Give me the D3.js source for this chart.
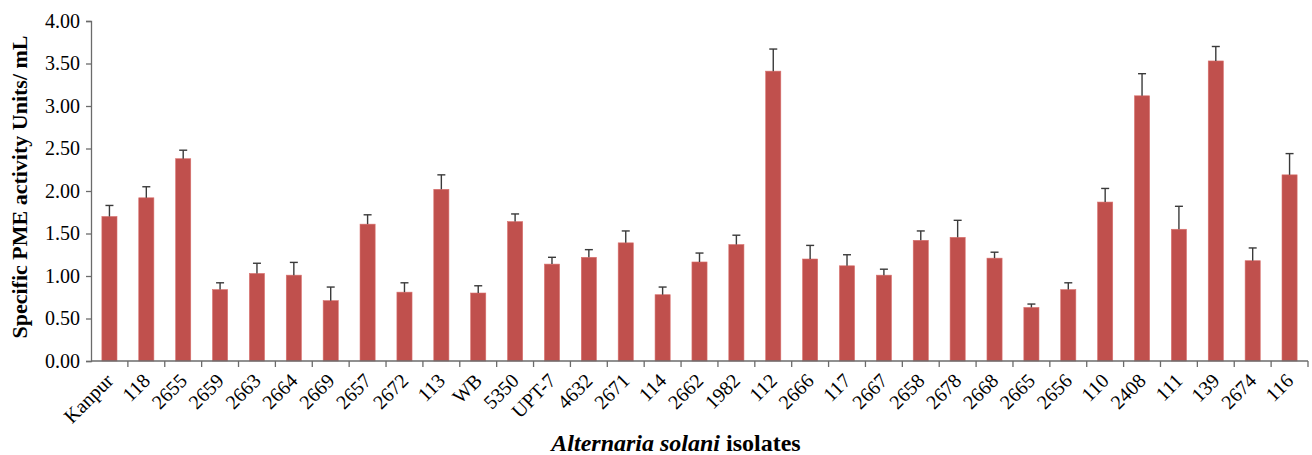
<!DOCTYPE html>
<html><head><meta charset="utf-8">
<script src="https://cdn.jsdelivr.net/npm/d3@7"></script>
<style>body{margin:0;background:#fff}svg{display:block}</style>
</head><body>
<svg id="c" width="1312" height="455"></svg>
<script>
const categories = ["Kanpur","118","2655","2659","2663","2664","2669","2657","2672","113","WB","5350","UPT-7","4632","2671","114","2662","1982","112","2666","117","2667","2658","2678","2668","2665","2656","110","2408","111","139","2674","116"];
const values = [1.70,1.92,2.38,0.84,1.03,1.01,0.71,1.61,0.81,2.02,0.80,1.64,1.14,1.22,1.39,0.78,1.165,1.37,3.41,1.20,1.12,1.01,1.42,1.455,1.21,0.63,0.84,1.87,3.12,1.55,3.53,1.18,2.19];
const errors = [0.13,0.13,0.10,0.08,0.12,0.15,0.16,0.11,0.11,0.17,0.085,0.09,0.08,0.09,0.14,0.09,0.105,0.11,0.26,0.16,0.13,0.07,0.11,0.20,0.07,0.04,0.08,0.16,0.26,0.27,0.17,0.15,0.25];
const yTicks = [0,0.5,1,1.5,2,2.5,3,3.5,4];

const svg = d3.select("#c");
const mLeft = 91, mRight = 1308, mTop = 21, mBottom = 361;
const x = d3.scaleBand().domain(categories).range([mLeft, mRight]).paddingInner(0.59).paddingOuter(0.295);
const y = d3.scaleLinear().domain([0,4]).range([mBottom, mTop]);
const serif = "'Liberation Serif','Times New Roman',serif";
const axisCol = "#6b6b6b";

// bars
svg.append("g").selectAll("rect").data(values).join("rect")
  .attr("x",(d,i)=>x(categories[i])).attr("width",x.bandwidth())
  .attr("y",d=>y(d)).attr("height",d=>y(0)-y(d))
  .attr("fill","#C0504D").attr("stroke","#d9716e").attr("stroke-width",0.6);

// error bars
const eg = svg.append("g").attr("stroke","#3a3a3a").attr("stroke-width",1.4);
values.forEach((v,i)=>{
  const cx = x(categories[i]) + x.bandwidth()/2;
  eg.append("line").attr("x1",cx).attr("x2",cx).attr("y1",y(v)).attr("y2",y(v+errors[i]));
  eg.append("line").attr("x1",cx-4).attr("x2",cx+4).attr("y1",y(v+errors[i])).attr("y2",y(v+errors[i]));
});

// y axis
const ya = svg.append("g").attr("transform",`translate(${mLeft},0)`)
  .call(d3.axisLeft(y).tickValues(yTicks).tickFormat(d3.format(".2f")).tickSize(5).tickPadding(6));
ya.select(".domain").attr("stroke",axisCol).attr("stroke-width",1.3);
ya.selectAll(".tick line").attr("stroke",axisCol).attr("stroke-width",1.3);
ya.selectAll(".tick text").attr("font-family",serif).attr("font-size",20).attr("fill","#000");

// x axis
const xa = svg.append("g");
xa.append("line").attr("x1",mLeft).attr("x2",mRight).attr("y1",mBottom).attr("y2",mBottom)
  .attr("stroke",axisCol).attr("stroke-width",1.6);
const step = x.step();
const bounds = d3.range(1, categories.length+1).map(k => mLeft + k*step);
xa.selectAll("line.tk").data(bounds).join("line").attr("class","tk")
  .attr("x1",d=>d).attr("x2",d=>d).attr("y1",mBottom).attr("y2",mBottom+6)
  .attr("stroke",axisCol).attr("stroke-width",1.3);
xa.selectAll("text").data(categories).join("text")
  .attr("transform",d=>`translate(${x(d)+x.bandwidth()/2+5},${mBottom+21}) rotate(-45)`)
  .attr("text-anchor","end").attr("font-family",serif).attr("font-size",20).attr("fill","#000")
  .text(d=>d);

// y title
svg.append("text").attr("transform","translate(27,187) rotate(-90)")
  .attr("text-anchor","middle").attr("font-family",serif).attr("font-weight","bold")
  .attr("font-size",22).text("Specific PME activity Units/ mL");

// x title
const xt = svg.append("text").attr("x",676).attr("y",451).attr("text-anchor","middle")
  .attr("font-family",serif).attr("font-weight","bold").attr("font-size",24);
xt.append("tspan").attr("font-style","italic").text("Alternaria solani");
xt.append("tspan").text(" isolates");
</script>
</body></html>
